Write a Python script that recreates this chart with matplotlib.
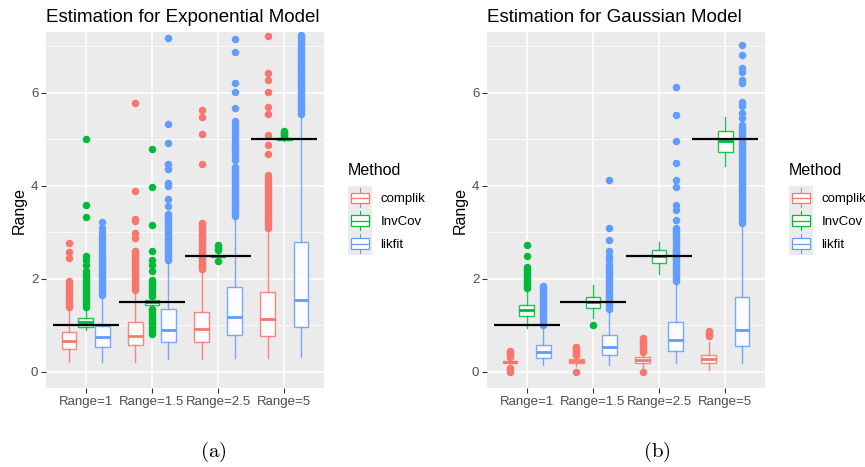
import matplotlib
matplotlib.use('Agg')
import matplotlib.pyplot as plt
from matplotlib.legend_handler import HandlerBase
from matplotlib.patches import Patch, Rectangle
from matplotlib.lines import Line2D

plt.rcParams['font.family'] = ['Liberation Sans', 'DejaVu Sans']
plt.rcParams['mathtext.fontset'] = 'cm'

range_labels = ['Range=1', 'Range=1.5', 'Range=2.5', 'Range=5']
true_range = [1, 1.5, 2.5, 5]
methods = ['complik', 'InvCov', 'likfit']
method_colors = ['#F8766D', '#00BA38', '#619CFF']

# box stats per group: [whisker low, q1, median, q3, whisker high]
exp_complik_stats = [[0.21, 0.49, 0.66, 0.85, 1.38], [0.22, 0.57, 0.77, 1.06, 1.73],
                     [0.27, 0.64, 0.93, 1.28, 2.18], [0.29, 0.77, 1.13, 1.71, 3.09]]
exp_invcov_stats = [[0.89, 0.97, 1.08, 1.15, 1.37], [1.38, 1.43, 1.50, 1.55, 1.60],
                    [2.44, 2.47, 2.50, 2.52, 2.55], [4.96, 4.98, 5.00, 5.02, 5.04]]
exp_likfit_stats = [[0.21, 0.54, 0.74, 0.99, 1.62], [0.27, 0.64, 0.90, 1.35, 2.37],
                    [0.29, 0.78, 1.17, 1.82, 3.34], [0.31, 0.97, 1.55, 2.79, 5.50]]

exp_complik_out = [
    [1.40, 1.44, 1.49, 1.53, 1.58, 1.62, 1.67, 1.71, 1.76, 1.80, 1.85, 1.90, 1.96, 2.44, 2.57, 2.78],
    [1.75, 1.80, 1.85, 1.90, 1.95, 2.00, 2.05, 2.10, 2.15, 2.20, 2.25, 2.30, 2.35, 2.40, 2.45,
     2.50, 2.55, 2.60, 2.87, 2.98, 3.25, 3.29, 3.88, 5.78],
    [2.20, 2.25, 2.30, 2.35, 2.40, 2.45, 2.50, 2.55, 2.60, 2.65, 2.70, 2.75, 2.80, 2.85, 2.90,
     2.95, 3.00, 3.05, 3.10, 3.15, 3.20, 4.47, 5.11, 5.48, 5.63],
    [3.10, 3.15, 3.20, 3.25, 3.30, 3.35, 3.40, 3.45, 3.52, 3.58, 3.63, 3.70, 3.75, 3.80, 3.85,
     3.90, 3.96, 4.02, 4.09, 4.15, 4.24, 4.69, 4.87, 5.10, 5.55, 5.69, 6.01, 6.28, 6.42, 7.23],
]
exp_invcov_out = [
    [1.40, 1.45, 1.50, 1.55, 1.60, 1.65, 1.70, 1.75, 1.80, 1.85, 1.90, 1.95, 2.00, 2.05, 2.10,
     2.16, 2.30, 2.40, 2.48, 3.34, 3.59, 5.00],
    [0.82, 0.87, 0.92, 0.97, 1.02, 1.07, 1.12, 1.17, 1.22, 1.27, 1.32, 1.36, 1.63, 1.68, 1.73,
     1.78, 1.83, 1.88, 1.93, 1.98, 2.16, 2.30, 2.41, 2.59, 3.15, 3.97, 4.80],
    [2.39, 2.62, 2.66, 2.72],
    [5.06, 5.09, 5.12, 5.15, 5.18],
]
exp_likfit_out = [
    [1.65, 1.70, 1.75, 1.80, 1.85, 1.90, 1.95, 2.00, 2.05, 2.10, 2.15, 2.20, 2.25, 2.30, 2.35,
     2.40, 2.45, 2.50, 2.55, 2.62, 2.70, 2.77, 2.85, 2.92, 3.00, 3.10, 3.23],
    [2.40, 2.45, 2.50, 2.55, 2.60, 2.65, 2.70, 2.75, 2.80, 2.85, 2.90, 2.95, 3.00, 3.05, 3.10,
     3.15, 3.20, 3.25, 3.30, 3.35, 3.40, 3.56, 3.71, 3.99, 4.06, 4.36, 4.47, 4.92, 5.33, 7.19],
    [3.35, 3.40, 3.45, 3.50, 3.55, 3.60, 3.65, 3.70, 3.75, 3.80, 3.85, 3.90, 3.95, 4.00, 4.05,
     4.10, 4.15, 4.20, 4.25, 4.30, 4.35, 4.40, 4.56, 4.62, 4.70, 4.77, 4.84, 4.90, 4.96, 5.02,
     5.10, 5.18, 5.25, 5.33, 5.40, 5.67, 6.01, 6.21, 6.87, 7.17],
    [5.55, 5.60, 5.65, 5.70, 5.75, 5.80, 5.85, 5.90, 5.95, 6.00, 6.05, 6.10, 6.15, 6.20, 6.25,
     6.30, 6.35, 6.40, 6.45, 6.50, 6.55, 6.60, 6.65, 6.70, 6.75, 6.80, 6.85, 6.90, 6.95, 7.00,
     7.05, 7.10, 7.15, 7.20, 7.25],
]

gau_complik_stats = [[0.13, 0.18, 0.21, 0.24, 0.30], [0.13, 0.19, 0.23, 0.27, 0.32],
                     [0.08, 0.19, 0.26, 0.32, 0.40], [0.04, 0.19, 0.27, 0.37, 0.63]]
gau_invcov_stats = [[0.94, 1.19, 1.33, 1.44, 1.76], [1.15, 1.37, 1.49, 1.61, 1.87],
                    [2.11, 2.34, 2.48, 2.61, 2.80], [4.42, 4.72, 4.97, 5.19, 5.49]]
gau_likfit_stats = [[0.15, 0.29, 0.42, 0.57, 0.98], [0.15, 0.37, 0.54, 0.78, 1.33],
                    [0.19, 0.45, 0.69, 1.06, 1.91], [0.19, 0.56, 0.90, 1.60, 3.20]]

gau_complik_out = [
    [0.00, 0.03, 0.06, 0.09, 0.32, 0.35, 0.38, 0.41, 0.44],
    [0.00, 0.35, 0.39, 0.43, 0.47, 0.51, 0.54],
    [0.00, 0.43, 0.47, 0.51, 0.55, 0.59, 0.63, 0.67, 0.72],
    [0.76, 0.80, 0.84, 0.88],
]
gau_invcov_out = [
    [1.80, 1.84, 1.88, 1.92, 1.96, 2.00, 2.04, 2.08, 2.12, 2.16, 2.20, 2.25, 2.48, 2.73],
    [1.00],
    [],
    [],
]
gau_likfit_out = [
    [1.00, 1.05, 1.10, 1.15, 1.20, 1.25, 1.30, 1.35, 1.40, 1.45, 1.50, 1.55, 1.60, 1.65, 1.70,
     1.75, 1.80, 1.85],
    [1.35, 1.40, 1.45, 1.50, 1.55, 1.60, 1.65, 1.70, 1.75, 1.80, 1.85, 1.90, 1.95, 2.00, 2.05,
     2.10, 2.15, 2.20, 2.25, 2.30, 2.40, 2.50, 2.59, 2.84, 3.09, 4.13],
    [1.95, 2.00, 2.05, 2.10, 2.15, 2.20, 2.25, 2.30, 2.35, 2.40, 2.45, 2.50, 2.55, 2.60, 2.65,
     2.70, 2.75, 2.80, 2.85, 2.90, 2.95, 3.00, 3.05, 3.10, 3.27, 3.47, 3.59, 3.97, 4.13, 4.50,
     4.97, 5.53, 6.12],
    [3.20, 3.25, 3.30, 3.35, 3.40, 3.45, 3.50, 3.55, 3.60, 3.65, 3.70, 3.75, 3.80, 3.85, 3.90,
     3.95, 4.00, 4.05, 4.10, 4.15, 4.20, 4.25, 4.30, 4.35, 4.40, 4.45, 4.50, 4.55, 4.60, 4.65,
     4.70, 4.75, 4.80, 4.85, 4.90, 4.95, 5.00, 5.05, 5.10, 5.15, 5.20, 5.25, 5.30, 5.46, 5.57,
     5.71, 5.81, 6.21, 6.28, 6.46, 6.54, 6.82, 7.04],
]


class BoxKey(HandlerBase):
    def create_artists(self, legend, orig_handle, xdescent, ydescent,
                       width, height, fontsize, trans):
        c = orig_handle.get_edgecolor()
        x0, y0 = -xdescent, -ydescent
        bg = Rectangle((x0, y0), width, height, facecolor='#EBEBEB',
                       edgecolor='none', transform=trans)
        wl = Line2D([x0 + width / 2] * 2, [y0 + 0.08 * height, y0 + 0.92 * height],
                    color=c, lw=0.8, transform=trans)
        box = Rectangle((x0 + 0.12 * width, y0 + 0.27 * height), 0.76 * width,
                        0.46 * height, facecolor='white', edgecolor=c, lw=0.9,
                        transform=trans)
        med = Line2D([x0 + 0.12 * width, x0 + 0.88 * width], [y0 + height / 2] * 2,
                     color=c, lw=0.9, transform=trans)
        return [bg, wl, box, med]


def draw_panel(ax, title, all_stats, all_out, leg_x):
    offsets = [-0.25, 0.0, 0.25]
    groups = list(range(1, len(range_labels) + 1))
    for m, color in enumerate(method_colors):
        stats = []
        for s, out in zip(all_stats[m], all_out[m]):
            stats.append(dict(whislo=s[0], q1=s[1], med=s[2], q3=s[3],
                              whishi=s[4], fliers=out))
        ax.bxp(stats, positions=[g + offsets[m] for g in groups], widths=0.22,
               patch_artist=True, showcaps=False,
               boxprops=dict(facecolor='white', edgecolor=color, lw=1.0, alpha=0.85),
               medianprops=dict(color=color, lw=2.0),
               whiskerprops=dict(color=color, lw=1.0, alpha=0.85),
               flierprops=dict(marker='o', markerfacecolor=color,
                               markeredgecolor=color, markersize=4.4))
    ax.hlines(true_range, [g - 0.5 for g in groups], [g + 0.5 for g in groups],
              color='black', lw=1.6, zorder=6)

    ax.set_facecolor('#EBEBEB')
    for sp in ax.spines.values():
        sp.set_visible(False)
    ax.set_xlim(0.4, 4.6)
    ax.set_ylim(-0.35, 7.31)
    ax.set_xticks(groups)
    ax.set_xticklabels(range_labels)
    ax.set_yticks([0, 2, 4, 6])
    ax.set_yticks([1, 3, 5, 7], minor=True)
    ax.grid(which='major', color='white', lw=1.1)
    ax.grid(which='minor', axis='y', color='white', lw=0.55)
    ax.set_axisbelow(True)
    ax.tick_params(which='major', length=3.5, width=0.8, color='#333333',
                   labelcolor='#4D4D4D', labelsize=9.5, pad=2)
    ax.tick_params(which='minor', length=0)
    ax.set_ylabel('Range', fontsize=11.5, labelpad=3)
    ax.set_title(title, loc='left', fontsize=13.5, pad=7)

    handles = [Patch(edgecolor=c, facecolor='white') for c in method_colors]
    leg = ax.legend(handles, methods, handler_map={Patch: BoxKey()},
                    title='Method', loc='upper left',
                    bbox_to_anchor=(leg_x, 1 - 163 / 467),
                    bbox_transform=fig.transFigure, frameon=False,
                    fontsize=9.5, title_fontsize=11.5, alignment='left',
                    handlelength=1.85, handleheight=2.3, labelspacing=0.0,
                    handletextpad=0.6, borderpad=0, borderaxespad=0)
    leg._legend_box.sep = 6


fig = plt.figure(figsize=(8.65, 4.67), dpi=100)
ax_a = fig.add_axes([46 / 865, 1 - 388 / 467, 278 / 865, 356 / 467])
ax_b = fig.add_axes([487 / 865, 1 - 388 / 467, 278 / 865, 356 / 467])

draw_panel(ax_a, 'Estimation for Exponential Model',
           [exp_complik_stats, exp_invcov_stats, exp_likfit_stats],
           [exp_complik_out, exp_invcov_out, exp_likfit_out], 348 / 865)
draw_panel(ax_b, 'Estimation for Gaussian Model',
           [gau_complik_stats, gau_invcov_stats, gau_likfit_stats],
           [gau_complik_out, gau_invcov_out, gau_likfit_out], 789 / 865)

fig.text(213 / 865, 1 - 452 / 467, r'$\mathrm{(a)}$', ha='center', va='center', fontsize=15)
fig.text(657 / 865, 1 - 452 / 467, r'$\mathrm{(b)}$', ha='center', va='center', fontsize=15)

fig.savefig('out.png', dpi=100)
